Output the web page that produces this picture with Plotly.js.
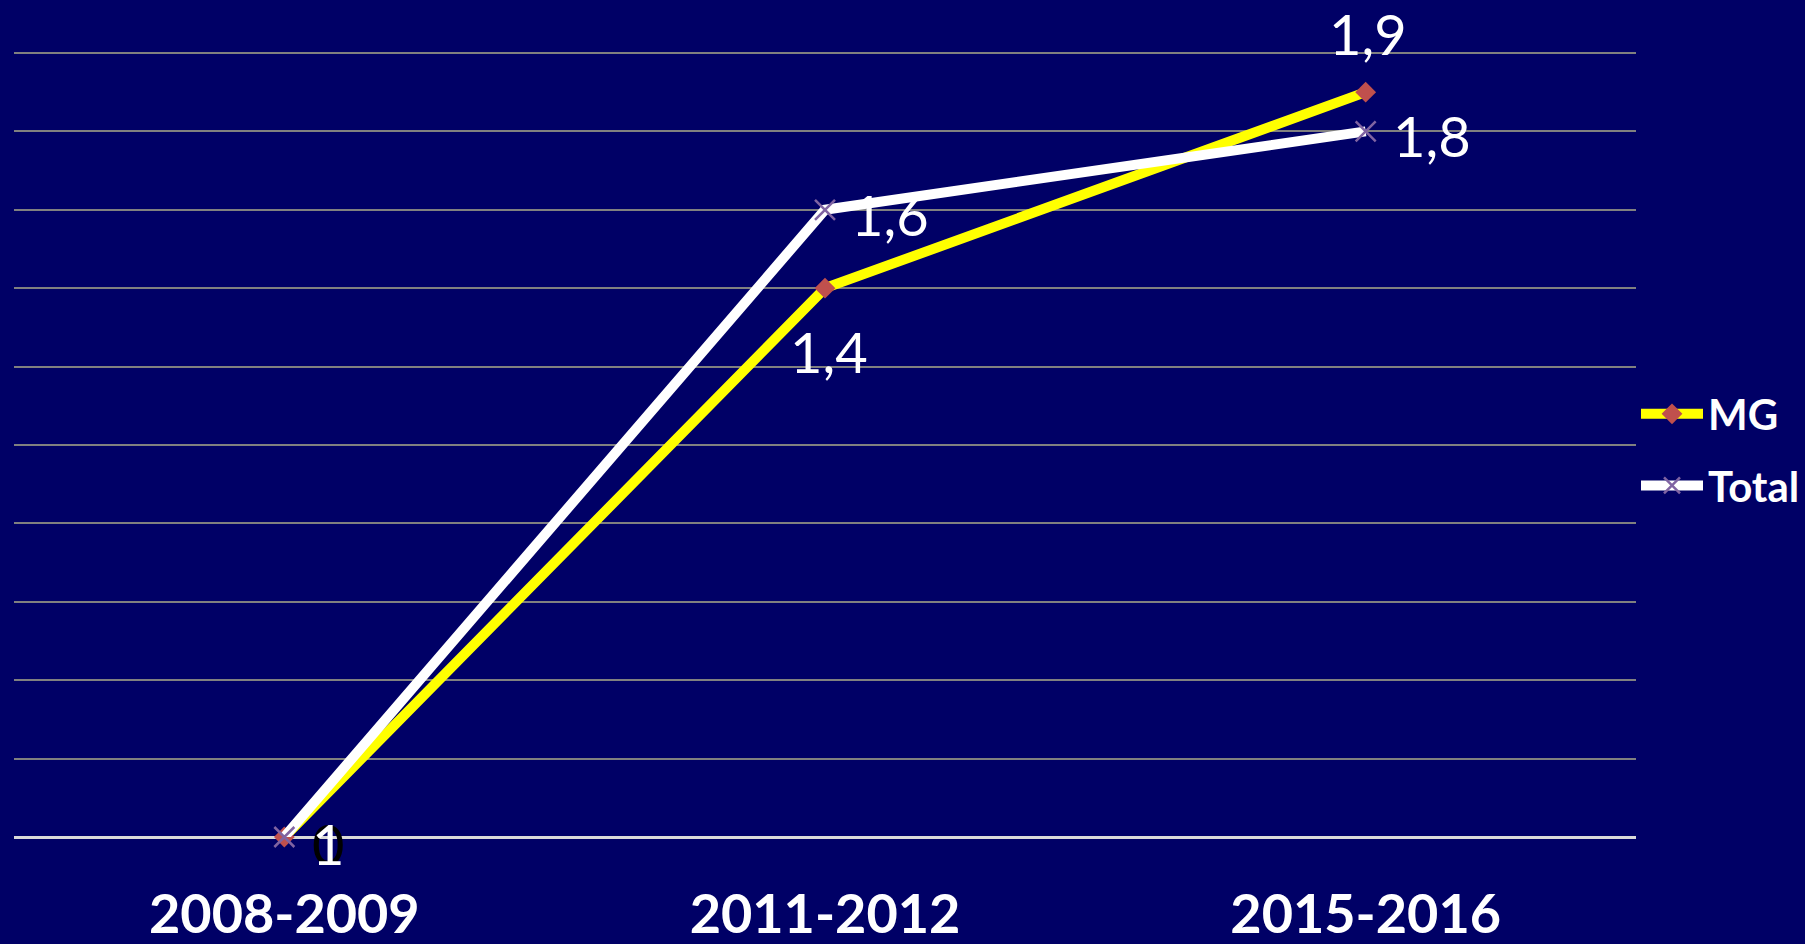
<!DOCTYPE html>
<html>
<head>
<meta charset="utf-8">
<script src="https://cdn.plot.ly/plotly-3.0.1.min.js"></script>
<style>html,body{margin:0;padding:0;background:#000066;}#chart{width:1805px;height:944px;}</style>
</head>
<body>
<div id="chart"></div>
<script>
const categories = ["2008-2009", "2011-2012", "2015-2016"];
const seriesNames = ["MG", "Total"];
const mgValues = [0, 1.4, 1.9];
const totalValues = [0, 1.6, 1.8];
const mgLabels = ["0", "1,4", "1,9"];
const totalLabels = ["1", "1,6", "1,8"];

const labelFont = "Lato, Carlito, sans-serif";

const mg = {
  type: "scatter", mode: "lines+markers", name: seriesNames[0], legendgroup: "a",
  x: categories, y: mgValues,
  line: {color: "#ffff00", width: 10},
  marker: {symbol: "diamond", size: 16, color: "#c0504d"},
  cliponaxis: false
};
const total = {
  type: "scatter", mode: "lines+markers", name: seriesNames[1], legendgroup: "b",
  x: categories, y: totalValues,
  line: {color: "#ffffff", width: 10},
  marker: {symbol: "x-thin-open", size: 20, color: "#8064a2", line: {color: "#8064a2", width: 2.5}},
  cliponaxis: false
};

// label placement offsets (pixels) for each point
const mgOffsets = [[44, -6, "center"], [4, -63, "center"], [2, 59, "center"]];
const totalOffsets = [[44, -6, "center"], [25, -5, "left"], [26, -4, "left"]];
const mgColors = ["#000000", "#ffffff", "#ffffff"];

const annotations = [];
categories.forEach((c, i) => {
  annotations.push({
    x: c, y: mgValues[i], text: mgLabels[i], showarrow: false,
    xshift: mgOffsets[i][0], yshift: mgOffsets[i][1], xanchor: mgOffsets[i][2], yanchor: "middle",
    font: {family: labelFont, size: 56, color: mgColors[i]}, borderpad: 0
  });
});
categories.forEach((c, i) => {
  annotations.push({
    x: c, y: totalValues[i], text: totalLabels[i], showarrow: false,
    xshift: totalOffsets[i][0], yshift: totalOffsets[i][1], xanchor: totalOffsets[i][2], yanchor: "middle",
    font: {family: labelFont, size: 56, color: "#ffffff"}, borderpad: 0
  });
});

const layout = {
  width: 1805, height: 944,
  paper_bgcolor: "#000066", plot_bgcolor: "#000066",
  margin: {l: 14, r: 169, t: 51, b: 107},
  showlegend: true,
  legend: {
    xref: "container", yref: "container",
    x: 1636 / 1805, xanchor: "left", y: 1 - 450 / 944, yanchor: "middle",
    font: {family: labelFont, size: 42, color: "#ffffff", weight: "bold"},
    bgcolor: "rgba(0,0,0,0)", itemwidth: 62, tracegroupgap: 14
  },
  annotations: annotations,
  xaxis: {
    type: "category", range: [-0.5, 2.5],
    showgrid: false, zeroline: false, showline: false,
    ticks: "", ticklen: 0, ticklabelstandoff: 41,
    tickfont: {family: labelFont, size: 54, color: "#ffffff", weight: "bold"}
  },
  yaxis: {
    range: [0, 2.005], dtick: 0.2, tick0: 0,
    showticklabels: false, ticks: "",
    showgrid: true, gridcolor: "#808080", gridwidth: 2,
    zeroline: true, zerolinecolor: "#d9d9d9", zerolinewidth: 3,
    showline: false, fixedrange: true
  }
};

Plotly.newPlot("chart", [mg, total], layout, {staticPlot: true, displayModeBar: false});
</script>
</body>
</html>
